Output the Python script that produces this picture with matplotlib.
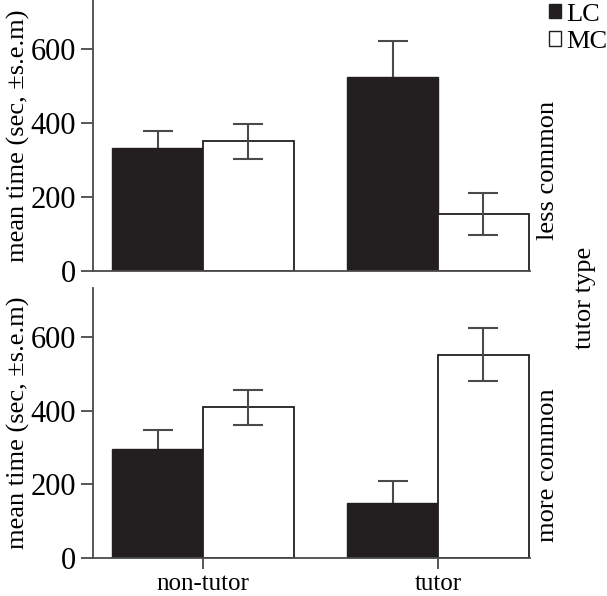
import matplotlib
matplotlib.use("Agg")
from matplotlib import pyplot as plt
from matplotlib.patches import Patch

groups = ["non-tutor", "tutor"]
# less common panel
lc_less = [331, 525]
lc_less_err = [47, 97]
mc_less = [350, 153]
mc_less_err = [48, 58]
# more common panel
lc_more = [297, 148]
lc_more_err = [50, 60]
mc_more = [409, 552]
mc_more_err = [48, 72]

plt.rcParams["font.family"] = ["Liberation Serif", "DejaVu Serif"]
plt.rcParams["font.size"] = 19

dark = "#231f20"
grey = "#4a4a4a"
w = 0.387
x = [0, 1]

fig = plt.figure(figsize=(6.07, 5.96), dpi=100)
ax1 = fig.add_axes([0.1532, 0.5461, 0.7198, 0.4539])
ax2 = fig.add_axes([0.1532, 0.0638, 0.7198, 0.4530])


def panel(ax, lc, lce, mc, mce):
    xl = [i - w / 2 for i in x]
    xm = [i + w / 2 for i in x]
    ax.bar(xl, lc, w, color=dark, edgecolor=dark, linewidth=1, zorder=2)
    ax.bar(xm, mc, w, color="white", edgecolor=dark, linewidth=1.3, zorder=2)
    ax.errorbar(xl, lc, yerr=lce, fmt="none", ecolor=grey, elinewidth=1.5,
                capsize=11, capthick=1.5, zorder=1)
    ax.errorbar(xm, mc, yerr=mce, fmt="none", ecolor=grey, elinewidth=1.5,
                capsize=11, capthick=1.5, zorder=3)
    ax.set_xlim(-0.468, 1.391)
    ax.set_ylim(0, 733)
    ax.set_yticks([0, 200, 400, 600])
    ax.spines["top"].set_visible(False)
    ax.spines["right"].set_visible(False)
    for s in ["left", "bottom"]:
        ax.spines[s].set_color(grey)
        ax.spines[s].set_linewidth(1.3)
    ax.tick_params(axis="y", length=9, width=1.3, color=grey, pad=3, labelsize=22)
    ax.set_ylabel("mean time (sec, \u00b1s.e.m)")
    ax.yaxis.set_label_coords(-0.145, 0.5)


panel(ax1, lc_less, lc_less_err, mc_less, mc_less_err)
panel(ax2, lc_more, lc_more_err, mc_more, mc_more_err)

ax1.set_xticks([])
ax2.set_xticks(x)
ax2.set_xticklabels(groups, fontsize=18)
ax2.tick_params(axis="x", length=8, width=1.3, color=grey, pad=3)

fig.text(548 / 607, 1 - 170 / 596, "less common", rotation=90, ha="center", va="center")
fig.text(548 / 607, 1 - 465 / 596, "more common", rotation=90, ha="center", va="center")
fig.text(585 / 607, 1 - 298 / 596, "tutor type", rotation=90, ha="center", va="center")

handles = [Patch(facecolor=dark, edgecolor=dark, label="LC"),
           Patch(facecolor="white", edgecolor=dark, linewidth=1, label="MC")]
fig.legend(handles=handles, loc="upper left", bbox_to_anchor=(549 / 607, 0.994),
           frameon=False, handlelength=0.45, handleheight=0.45, handletextpad=0.2,
           labelspacing=0.2, borderaxespad=0, borderpad=0)

fig.savefig("out.png", dpi=100)
